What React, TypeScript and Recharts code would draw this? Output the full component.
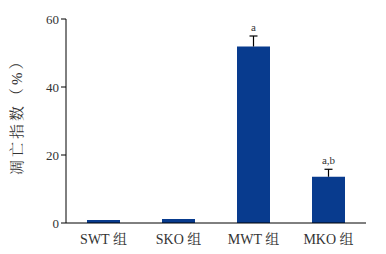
import * as React from "react";
import {
  Bar,
  ComposedChart,
  ErrorBar,
  LabelList,
  Line,
  XAxis,
  YAxis,
} from "recharts";

const groups = ["SWT 组", "SKO 组", "MWT 组", "MKO 组"];
const apoptosis = [0.9, 1.2, 51.9, 13.6];
const errors = [0, 0, 3.1, 2.2];
const marks = ["", "", "a", "a,b"];
const yTicks = [0, 20, 40, 60];

const data = groups.map((g, i) => ({
  group: g,
  value: apoptosis[i],
  top: apoptosis[i] + errors[i],
  // stem goes from the whisker top down to the bar top only
  err: [errors[i], 0],
  sd: errors[i],
  mark: marks[i],
}));

const serif = '"Liberation Serif", "Noto Serif CJK SC", "Noto Sans CJK SC", serif';
const textColor = "#333";
const barColor = "#083B8E";

// horizontal cap of the whisker, drawn at the "top" point
function Cap(props: any) {
  const { cx, cy, payload, index } = props;
  if (!payload || !payload.sd) return <g key={`cap-${index}`} />;
  return (
    <line
      key={`cap-${index}`}
      x1={cx - 4}
      x2={cx + 4}
      y1={cy}
      y2={cy}
      stroke="#000"
      strokeWidth={1.2}
    />
  );
}

export default function App() {
  return (
    <div style={{ position: "absolute", left: 0, top: 0, width: 386, height: 254, background: "#fff" }}>
      <ComposedChart
        width={386}
        height={254}
        data={data}
        margin={{ top: 19, right: 20, left: 0, bottom: 1 }}
        barCategoryGap={21}
      >
        <XAxis
          dataKey="group"
          height={30}
          tick={{ fill: textColor, fontSize: 14, fontFamily: serif }}
          tickLine={false}
          axisLine={{ stroke: "#000" }}
          tickMargin={5}
        />
        <YAxis
          domain={[0, 60]}
          ticks={yTicks}
          width={66}
          tick={{ fill: textColor, fontSize: 13, fontFamily: serif }}
          tickLine={{ stroke: "#000" }}
          tickSize={5}
          axisLine={{ stroke: "#000" }}
          label={{
            value: "凋亡指数（%）",
            angle: -90,
            position: "insideLeft",
            dx: 12,
            dy: 54,
            style: { fill: textColor, fontSize: 15, fontFamily: serif, letterSpacing: 3 },
          }}
        />
        <Bar dataKey="value" fill={barColor} isAnimationActive={false} />
        <Line
          dataKey="top"
          stroke="none"
          dot={Cap}
          activeDot={false}
          isAnimationActive={false}
        >
          <ErrorBar dataKey="err" width={0} stroke="#000" strokeWidth={1.2} direction="y" />
          <LabelList
            dataKey="mark"
            position="top"
            offset={5}
            style={{ fill: textColor, fontSize: 11, fontFamily: serif }}
          />
        </Line>
      </ComposedChart>
    </div>
  );
}
